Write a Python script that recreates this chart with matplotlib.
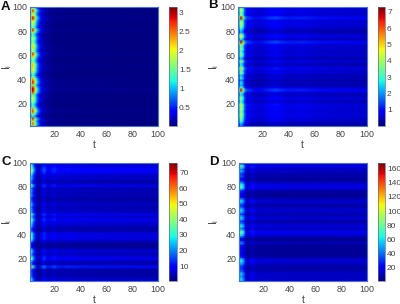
import numpy as np
import matplotlib
matplotlib.use("Agg")
import matplotlib.pyplot as plt

plt.rcParams['font.family'] = ['Liberation Sans', 'DejaVu Sans']

rows = [1,3,5,7,9,11,13,15,17,19,21,23,25,27,29,31,33,35,37,39,41,43,45,47,49,
        51,53,55,57,59,61,63,65,67,69,71,73,75,77,79,81,83,85,87,89,91,93,95,97,99,100]

t_a = [1,2,3,4,5,6,7,8,9,10,12,15,20,40,100]
prof_a = [.4,.72,1,.92,.7,.5,.36,.26,.18,.12,.07,.04,.025,.02,.015]
rows_a = [.6,.85,.6,.9,.35,.55,.85,.8,.5,.4,.55,.6,.6,.5,.85,.98,.95,.6,.9,.85,.7,.4,.5,.7,.65,
          .72,.7,.5,.55,.7,.9,.55,.6,.7,.65,.5,.55,.6,.4,.6,.92,.5,.55,.65,.7,.98,.7,.6,.9,.6,.4]

t_b = [1,2,3,4,5,6,7,8,10,12,15,20,25,30,35,40,50,60,70,100]
prof_b = [.25,.55,1,.95,.7,.42,.3,.22,.19,.16,.14,.15,.19,.22,.18,.16,.17,.15,.14,.13]
rows_b = [.25,.3,.45,.5,.55,.6,.5,.6,.55,.65,.4,.5,.55,.35,.5,.95,.5,.3,.4,.25,.45,.3,.55,.45,.7,
          .4,.35,.6,.3,.45,.55,.4,.55,.45,.6,.98,.35,.6,.6,.3,.35,.5,.55,.6,.5,.98,.55,.5,.6,.55,.4]

t_c = [1,2,3,4,5,6,7,8,10,12,14,16,20,22,25,30,40,60,100]
prof_c = [.55,1,.75,.5,.32,.2,.12,.1,.24,.35,.22,.2,.28,.22,.2,.22,.2,.19,.18]
rows_c = [.5,.45,.28,.3,.25,.28,.95,.35,.3,.6,.65,.35,.45,.5,.2,.18,.2,.45,.6,.55,.6,.3,.25,.4,.45,
          .55,.7,.4,.7,.35,.4,.3,.45,.35,.28,.25,.4,.3,.4,.3,.7,.35,.28,.45,.4,.55,.75,.8,.6,.5,.3]

t_d = [1,2,3,4,5,6,7,8,10,12,14,16,20,30,50,100]
prof_d = [.45,.95,1,.85,.65,.33,.23,.18,.3,.33,.24,.22,.23,.22,.21,.21]
rows_d = [.55,.6,.45,.6,.4,.35,.3,.45,.6,.65,.3,.22,.2,.25,.22,.2,.5,.22,.2,.55,.75,.8,.4,.7,.5,
          .3,.55,.6,.3,.55,.6,.4,.3,.55,.6,.25,.22,.25,.3,.7,.75,.6,.3,.22,.4,.3,.55,.45,.85,.55,.3]

ticks = [20,40,60,80,100]
cb_a = [.5,1,1.5,2,2.5,3]
cb_a_l = ['0.5','1','1.5','2','2.5','3']
cb_b = [1,2,3,4,5,6,7]
cb_c = [10,20,30,40,50,60,70]
cb_d = [20,40,60,80,100,120,140,160]

W, H = 400, 304
fig = plt.figure(figsize=(W/100, H/100), dpi=100)
txt = '#444444'
edge = '#4a6fd8'

panels = [
 ('A', t_a, prof_a, rows_a, .02, 3.15, cb_a, cb_a_l, 30, 158, 7, 126, 169, 177, 1, 7, 7),
 ('B', t_b, prof_b, rows_b, .02, 7.3, cb_b, [str(v) for v in cb_b], 238, 367, 7, 126, 378, 385, 208, 5, 214),
 ('C', t_c, prof_c, rows_c, .5, 76, cb_c, [str(v) for v in cb_c], 30, 158, 163, 281, 169, 177, 1, 162, 7),
 ('D', t_d, prof_d, rows_d, 1, 168, cb_d, [str(v) for v in cb_d], 239, 367, 163, 281, 378, 385, 209, 162, 214),
]
peak = {'A':3.15, 'B':7.3, 'C':62, 'D':100}

for name, t, prof, rw, vmin, vmax, cbt, cbl, x0, x1, y0, y1, c0, c1, lx, ly, ylx in panels:
    ax = fig.add_axes([x0/W, 1-y1/H, (x1-x0)/W, (y1-y0)/H])
    Z = np.outer(rw, prof) * peak[name]
    m = ax.pcolormesh(t, rows, Z, shading='gouraud', cmap='jet', vmin=vmin, vmax=vmax, rasterized=True)
    ax.set_xlim(1, 100); ax.set_ylim(1, 100)
    ax.set_xticks(ticks); ax.set_yticks(ticks)
    ax.tick_params(length=0, labelsize=6.4, colors=txt)
    ax.tick_params(axis='x', pad=3)
    ax.tick_params(axis='y', pad=2)
    for s in ax.spines.values():
        s.set_color(edge); s.set_linewidth(.8)
    ax.set_xlabel('t', fontsize=7.5, color=txt, va='center')
    ax.xaxis.set_label_coords(.5, -19/(y1-y0))
    ax.set_ylabel('$\\mathregular{I_i}$', fontsize=7.5, color=txt, va='center')
    ax.yaxis.set_label_coords((ylx-x0)/(x1-x0), .5)
    fig.text(lx/W, 1-ly/H, name, fontsize=9.5, fontweight='bold', color='#111111', va='center', ha='left')
    cax = fig.add_axes([c0/W, 1-y1/H, (c1-c0)/W, (y1-y0)/H])
    cb = fig.colorbar(m, cax=cax)
    cb.set_ticks(cbt); cb.set_ticklabels(cbl)
    cb.ax.tick_params(length=0, labelsize=6, colors=txt, pad=1.5)
    cb.outline.set_edgecolor('#6a6a8a'); cb.outline.set_linewidth(.5)

fig.savefig('out.png', dpi=100)
